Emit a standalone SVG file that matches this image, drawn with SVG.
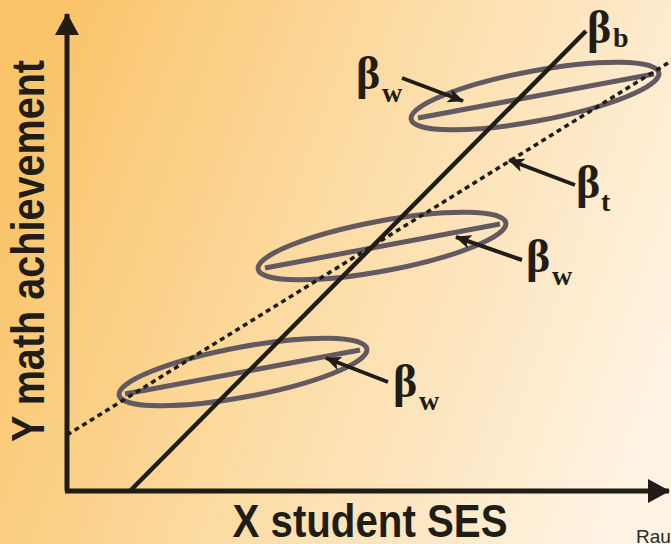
<svg xmlns="http://www.w3.org/2000/svg" width="671" height="544" viewBox="0 0 671 544">
<defs>
<linearGradient id="bg" x1="0" y1="0.35" x2="1" y2="0.65">
<stop offset="0" stop-color="#F9C46A"/>
<stop offset="0.45" stop-color="#FCDBA2"/>
<stop offset="1" stop-color="#FEF3E2"/>
</linearGradient>
<marker id="ah" viewBox="0 0 16 14" markerWidth="16" markerHeight="14" refX="15" refY="7" orient="auto" markerUnits="userSpaceOnUse">
<path d="M0,0 L16,7 L0,14 L4,7 z" fill="#1f1d16"/>
</marker>
<marker id="axh" viewBox="0 0 22 24" markerWidth="22" markerHeight="24" refX="21" refY="12" orient="auto" markerUnits="userSpaceOnUse">
<path d="M0,0 L22,12 L0,24 z" fill="#1f1d16"/>
</marker>
</defs>
<style>
.axis{stroke:#1f1d16;stroke-width:5;fill:none}
.grp{fill:none;stroke:#625961;stroke-width:5}
.solid{stroke:#1f1d16;stroke-width:4.5;fill:none}
.dot{stroke:#1f1d16;stroke-width:3.5;fill:none;stroke-dasharray:5 4}
.conn{stroke:#1f1d16;stroke-width:4;fill:none;marker-end:url(#ah)}
.lab{font-family:"Liberation Sans",Arial,sans-serif;font-weight:bold;fill:#1f1d16}
.beta{font-family:"Liberation Serif","Times New Roman",serif;font-weight:bold;fill:#1f1d16;font-size:46px}
.sub{font-family:"Liberation Serif","Times New Roman",serif;font-weight:bold;fill:#1f1d16;font-size:28px}
</style>
<rect width="671" height="544" fill="url(#bg)"/>
<g id="axes">
<line class="axis" x1="67" y1="491" x2="67" y2="14" marker-end="url(#axh)"/>
<line class="axis" x1="65" y1="491" x2="669" y2="491" marker-end="url(#axh)"/>
<text class="lab" font-size="46" text-anchor="middle" textLength="382" lengthAdjust="spacingAndGlyphs" transform="translate(44,251) rotate(-90)">Y math achievement</text>
<text class="lab" font-size="46" text-anchor="middle" x="370" y="537" textLength="275" lengthAdjust="spacingAndGlyphs">X student SES</text>
<text x="636" y="543" font-family="'Liberation Sans',Arial,sans-serif" font-size="19" fill="#2a2a2a">Rau</text>
</g>
<g id="group-top">
<ellipse class="grp" cx="535" cy="96" rx="126" ry="25" transform="rotate(-10.6 535 96)"/>
<line class="grp" x1="418" y1="118" x2="654" y2="74"/>
</g>
<g id="group-middle">
<ellipse class="grp" cx="382" cy="246" rx="126" ry="25" transform="rotate(-10.6 382 246)"/>
<line class="grp" x1="265" y1="268" x2="500" y2="224"/>
</g>
<g id="group-bottom">
<ellipse class="grp" cx="243" cy="372" rx="126" ry="25" transform="rotate(-10.6 243 372)"/>
<line class="grp" x1="125" y1="394" x2="360" y2="350"/>
</g>
<g id="line-between">
<line class="solid" x1="130" y1="491" x2="586" y2="31"/>
</g>
<g id="line-total">
<line class="dot" x1="67" y1="435" x2="668" y2="63"/>
</g>
<g id="label-bw-top"><text class="beta" x="356" y="89">β</text><text class="sub" x="382" y="102">w</text></g>
<g id="label-bb"><text class="beta" x="587" y="43">β</text><text class="sub" x="613" y="47">b</text></g>
<g id="label-bt"><text class="beta" x="576" y="198">β</text><text class="sub" x="601" y="211">t</text></g>
<g id="label-bw-mid"><text class="beta" x="526" y="272">β</text><text class="sub" x="552" y="285">w</text></g>
<g id="label-bw-bot"><text class="beta" x="393" y="397">β</text><text class="sub" x="419" y="410">w</text></g>
<g id="connectors">
<line class="conn" x1="402" y1="78" x2="463" y2="101"/>
<line class="conn" x1="575" y1="185" x2="509" y2="160"/>
<line class="conn" x1="522" y1="260" x2="456" y2="237"/>
<line class="conn" x1="388" y1="382" x2="326" y2="358"/>
</g>
</svg>
